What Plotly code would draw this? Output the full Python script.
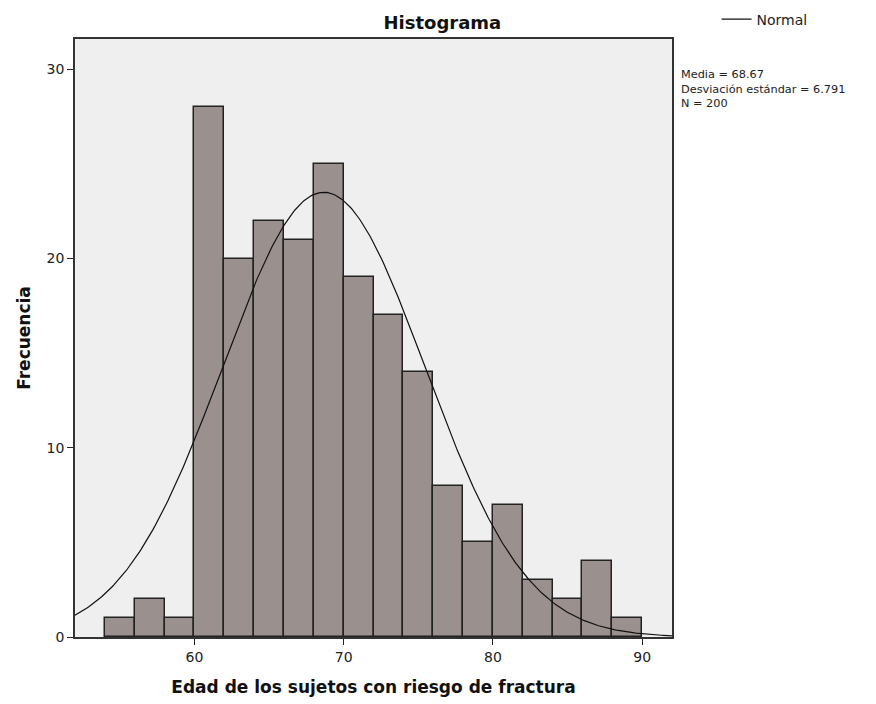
import numpy as np
import plotly.graph_objects as go

# Data
bin_starts = [54, 56, 58, 60, 62, 64, 66, 68, 70, 72, 74, 76, 78, 80, 82, 84, 86, 88]
bin_width = 2
counts = [1, 2, 1, 28, 20, 22, 21, 25, 19, 17, 14, 8, 5, 7, 3, 2, 4, 1]
mean = 68.67
sd = 6.791
n = 200
x_ticks = [60, 70, 80, 90]
y_ticks = [0, 10, 20, 30]

# Normal curve fitted from the reported statistics
xc = np.linspace(52, 92, 400)
yc = n * bin_width / (sd * np.sqrt(2 * np.pi)) * np.exp(-0.5 * ((xc - mean) / sd) ** 2)

font = "DejaVu Sans"
fig = go.Figure()
fig.add_trace(go.Bar(
    x=[b + bin_width / 2 for b in bin_starts], y=counts, width=bin_width,
    marker=dict(color="#9a908e", line=dict(color="#222222", width=1.5)),
    showlegend=False, hoverinfo="x+y"))
fig.add_trace(go.Scatter(
    x=xc, y=yc, mode="lines", name="Normal",
    line=dict(color="#111111", width=1.2)))

fig.update_layout(
    width=876, height=704,
    margin=dict(l=75, r=204, t=39, b=67, autoexpand=False),
    paper_bgcolor="white", plot_bgcolor="#efefef",
    font=dict(family=font, color="#222222"),
    title=dict(text="<b>Histograma</b>", x=0.505, xanchor="center", y=0.968, yanchor="middle",
               font=dict(size=18, color="#111111")),
    bargap=0,
    legend=dict(x=0.818, xanchor="left", xref="container", y=0.995, yanchor="top", yref="container",
                bgcolor="rgba(0,0,0,0)", font=dict(size=14, color="#222222"),
                itemwidth=30, tracegroupgap=0),
    showlegend=True,
)
fig.update_xaxes(
    range=[52, 92], tickvals=x_ticks, ticks="outside", ticklen=6, tickcolor="#222222",
    showgrid=False, zeroline=False, showline=True, linecolor="#333333", linewidth=1.5,
    mirror=True, tickfont=dict(size=14),
    title=dict(text="<b>Edad de los sujetos con riesgo de fractura</b>", font=dict(size=17, color="#111111"),
               standoff=18))
fig.update_yaxes(
    range=[0, 31.6], tickvals=y_ticks, ticks="outside", ticklen=6, tickcolor="#222222",
    showgrid=False, zeroline=False, showline=True, linecolor="#333333", linewidth=1.5,
    mirror=True, tickfont=dict(size=14),
    title=dict(text="<b>Frecuencia</b>", font=dict(size=17, color="#111111"), standoff=12))

fig.add_annotation(
    xref="paper", yref="paper", x=1.012, y=0.955, xanchor="left", yanchor="top",
    text=f"Media = {mean:.2f}<br>Desviación estándar = {sd:.3f}<br>N = {n}",
    showarrow=False, align="left", font=dict(size=11.3, color="#222222"))

fig.write_html("out.html")
